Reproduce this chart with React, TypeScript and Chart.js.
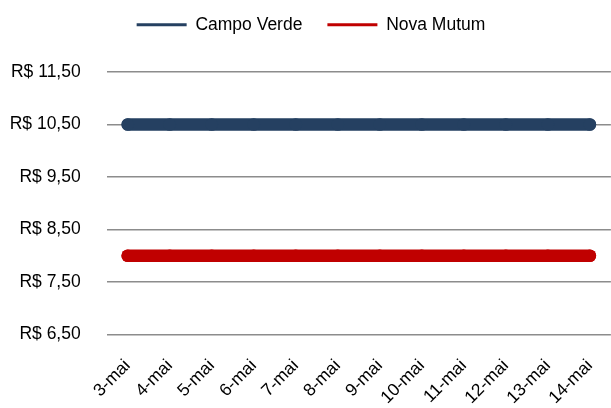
import React, { useEffect, useRef } from "react";
import { Chart, registerables } from "chart.js";

Chart.register(...registerables);

const categories = ["3-mai", "4-mai", "5-mai", "6-mai", "7-mai", "8-mai", "9-mai", "10-mai", "11-mai", "12-mai", "13-mai", "14-mai"];
const campoVerde = [10.5, 10.5, 10.5, 10.5, 10.5, 10.5, 10.5, 10.5, 10.5, 10.5, 10.5, 10.5];
const novaMutum = [8.0, 8.0, 8.0, 8.0, 8.0, 8.0, 8.0, 8.0, 8.0, 8.0, 8.0, 8.0];
const yMin = 6.5;
const yMax = 11.5;
const yStep = 1;

const FONT = "'Liberation Sans', Arial, sans-serif";

const legendTweak = {
  id: "legendTweak",
  beforeInit(chart: any) {
    const lg = chart.legend;
    if (!lg) return;
    const orig = lg.fit.bind(lg);
    lg.fit = function () {
      orig();
      this.height = 72;
    };
  },
  afterLayout(chart: any) {
    const lg = chart.legend;
    if (!lg) return;
    lg.top -= 9;
    lg.left += 2;
    lg.right += 2;
  },
};

export default function App() {
  const ref = useRef<HTMLCanvasElement>(null);
  useEffect(() => {
    document.body.style.margin = "0";
    if (!ref.current) return;
    const chart = new Chart(ref.current, {
      type: "line",
      data: {
        labels: categories,
        datasets: [
          {
            label: "Campo Verde",
            data: campoVerde,
            borderColor: "#254061",
            backgroundColor: "#254061",
            borderWidth: 12.5,
            borderCapStyle: "round",
            pointRadius: 6.3,
            pointBorderWidth: 0,
            pointBackgroundColor: "#254061",
          },
          {
            label: "Nova Mutum",
            data: novaMutum,
            borderColor: "#C00000",
            backgroundColor: "#C00000",
            borderWidth: 12.5,
            borderCapStyle: "round",
            pointRadius: 6.3,
            pointBorderWidth: 0,
            pointBackgroundColor: "#C00000",
          },
        ],
      },
      plugins: [legendTweak],
      options: {
        animation: false,
        responsive: false,
        maintainAspectRatio: false,
        layout: { padding: 0 },
        plugins: {
          tooltip: { enabled: false },
          legend: {
            position: "top",
            labels: {
              boxWidth: 50,
              boxHeight: 3,
              padding: 25,
              color: "#000",
              font: { family: FONT, size: 17.5 },
              generateLabels: (c: any) =>
                c.data.datasets.map((d: any, i: number) => ({
                  text: d.label,
                  fillStyle: d.borderColor,
                  strokeStyle: d.borderColor,
                  lineWidth: 0,
                  datasetIndex: i,
                  fontColor: "#000",
                })),
            },
          },
        },
        scales: {
          x: {
            type: "category",
            offset: true,
            grid: { display: false },
            border: { display: false },
            ticks: {
              autoSkip: false,
              minRotation: 45,
              maxRotation: 45,
              padding: 13,
              color: "#000",
              font: { family: FONT, size: 17.5 },
            },
            afterFit: (s: any) => {
              s.height = 73.5;
            },
          },
          y: {
            min: yMin,
            max: yMax,
            border: { display: false },
            grid: { color: "#8c8c8c", lineWidth: 1.5, drawTicks: false },
            ticks: {
              stepSize: yStep,
              padding: 26,
              color: "#000",
              font: { family: FONT, size: 17.5 },
              callback: (v: any) => "R$ " + Number(v).toFixed(2).replace(".", ","),
            },
            afterFit: (s: any) => {
              s.width = 106.7;
            },
          },
        },
      },
    } as any);
    return () => chart.destroy();
  }, []);
  return (
    <div style={{ width: 611, height: 408, overflow: "hidden", background: "#fff" }}>
      <canvas ref={ref} width={618} height={408} style={{ display: "block" }} />
    </div>
  );
}
